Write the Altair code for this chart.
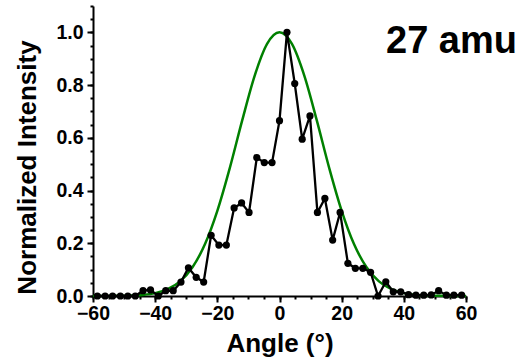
import altair as alt
import pandas as pd

# Measured data (angle in degrees, normalized intensity)
angles = [-58.6, -56.1, -53.7, -51.2, -48.8, -46.4, -43.9, -41.5, -39.0, -36.6,
          -34.2, -31.7, -29.3, -26.8, -24.4, -22.0, -19.5, -17.1, -14.6, -12.2,
          -9.8, -7.3, -4.9, -2.4, 0.0, 2.4, 4.9, 7.3, 9.8, 12.2,
          14.6, 17.1, 19.5, 22.0, 24.4, 26.8, 29.3, 31.7, 34.2, 36.6,
          39.0, 41.5, 43.9, 46.4, 48.8, 51.2, 53.7, 56.1, 58.6]
intensity = [0.0, 0.0, 0.0, 0.0, 0.0, 0.0, 0.02, 0.023, 0.0, 0.02,
             0.02, 0.053, 0.107, 0.071, 0.053, 0.23, 0.193, 0.193, 0.334, 0.353,
             0.317, 0.525, 0.506, 0.506, 0.665, 1.0, 0.806, 0.595, 0.683, 0.317,
             0.37, 0.212, 0.317, 0.124, 0.105, 0.105, 0.09, 0.0, 0.054, 0.016,
             0.016, 0.005, 0.003, 0.003, 0.004, 0.02, 0.003, 0.003, 0.003]

# Fitted curve (green)
fit_angles = [-60, -56, -52, -48, -44, -40, -36, -32, -28, -24, -20, -16, -12, -8, -4,
              0, 4, 8, 12, 16, 20, 24, 28, 32, 36, 40, 44, 48, 52, 56, 60]
fit_values = [0.0, 0.0001, 0.0005, 0.0015, 0.0042, 0.0109, 0.0257, 0.0553, 0.109, 0.196,
              0.323, 0.485, 0.666, 0.835, 0.956, 1.0, 0.956, 0.835, 0.666, 0.485,
              0.323, 0.196, 0.109, 0.0553, 0.0257, 0.0109, 0.0042, 0.0015, 0.0005, 0.0001, 0.0]

x_major = [-60, -40, -20, 0, 20, 40, 60]
x_minor = list(range(-60, 61, 5))
y_major = [0.0, 0.2, 0.4, 0.6, 0.8, 1.0]
y_minor = [round(0.05 * i, 2) for i in range(0, 23)]

data = pd.DataFrame({"angle": angles, "intensity": intensity})
fit = pd.DataFrame({"angle": fit_angles, "value": fit_values})

FONT = "Liberation Sans"
xscale = alt.Scale(domain=[-60, 60], nice=False, zero=False)
yscale = alt.Scale(domain=[0, 1.1], nice=False)

axis_common = dict(
    domainColor="black", domainWidth=2, tickColor="black", tickWidth=2,
    labelFont=FONT, labelFontWeight="bold", labelFontSize=19.5, labelColor="black",
    labelFlush=False, labelOverlap=False,
    titleFont=FONT, titleFontWeight="bold", titleFontSize=26, titleColor="black",
    titleBaseline="alphabetic",
    grid=False,
)

x_major_axis = alt.Axis(values=x_major, tickSize=6, labelPadding=2, title="Angle (°)",
                        titleY=55, orient="bottom", **axis_common)
y_major_axis = alt.Axis(values=y_major, tickSize=6, labelPadding=4, format=".1f",
                        title="Normalized Intensity", titleX=-58, titleY=161,
                        titleAngle=270, titleAlign="center", orient="left",
                        **axis_common)
x_minor_axis = alt.Axis(values=x_minor, tickSize=3, labels=False, domain=False, title=None,
                        orient="bottom", tickColor="black", tickWidth=2, grid=False)
y_minor_axis = alt.Axis(values=y_minor, tickSize=3, labels=False, domain=False, title=None,
                        orient="left", tickColor="black", tickWidth=2, grid=False)

curve = alt.Chart(fit).mark_line(color="#008000", strokeWidth=2.5, interpolate="monotone").encode(
    x=alt.X("angle:Q", scale=xscale, axis=x_minor_axis),
    y=alt.Y("value:Q", scale=yscale, axis=y_minor_axis),
)

line = alt.Chart(data).mark_line(color="black", strokeWidth=2.3).encode(
    x=alt.X("angle:Q", scale=xscale, axis=x_major_axis),
    y=alt.Y("intensity:Q", scale=yscale, axis=y_major_axis),
)
points = alt.Chart(data).mark_circle(color="black", size=52, opacity=1).encode(
    x=alt.X("angle:Q", scale=xscale, axis=None),
    y=alt.Y("intensity:Q", scale=yscale, axis=None),
)

chart = alt.layer(curve, line, points).resolve_axis(x="independent", y="independent").properties(
    width=373, height=290,
    autosize=alt.AutoSizeParams(type="none"),
    padding={"left": 93, "top": 6, "right": 65, "bottom": 61},
    title=alt.Title("27 amu", anchor="end", orient="top", frame="group", offset=0,
                    dx=51, dy=86, fontSize=38, font=FONT, fontWeight="bold", color="black",
                    baseline="alphabetic"),
).configure_view(stroke=None)

chart.save("out.html", embed_options={"renderer": "svg", "actions": False})
